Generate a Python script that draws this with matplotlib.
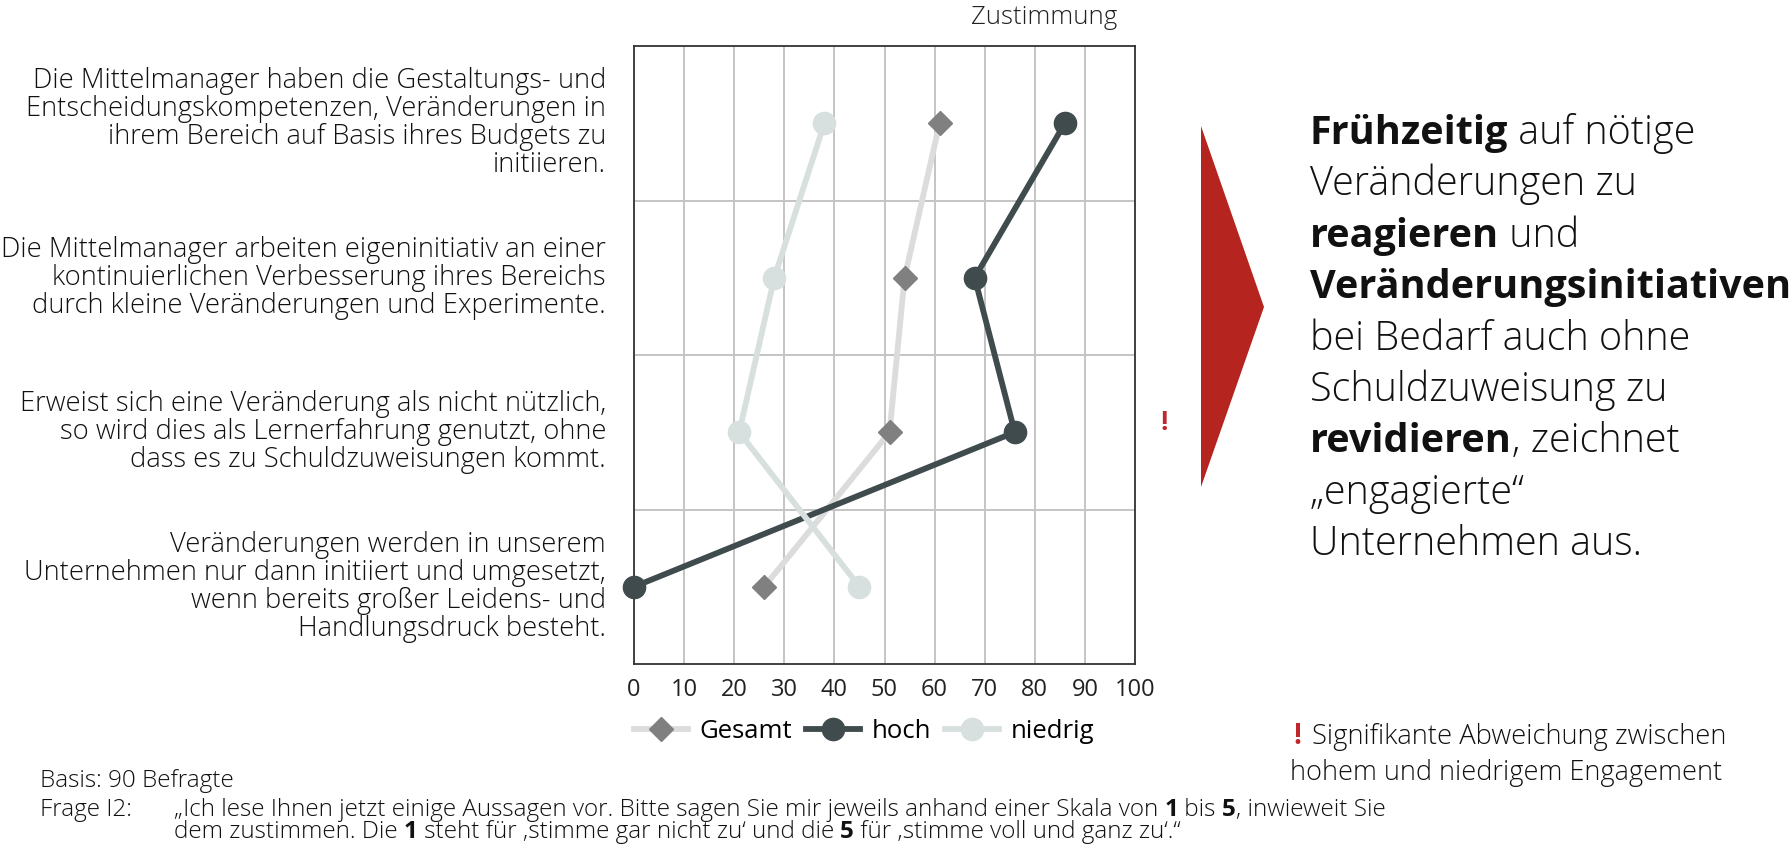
import matplotlib
matplotlib.use('Agg')
import matplotlib.pyplot as plt

plt.rcParams['font.family'] = ['Open Sans', 'DejaVu Sans']

aussagen = [
    'Die Mittelmanager haben die Gestaltungs- und\nEntscheidungskompetenzen, Veränderungen in\nihrem Bereich auf Basis ihres Budgets zu\ninitiieren.',
    'Die Mittelmanager arbeiten eigeninitiativ an einer\nkontinuierlichen Verbesserung ihres Bereichs\ndurch kleine Veränderungen und Experimente.',
    'Erweist sich eine Veränderung als nicht nützlich,\nso wird dies als Lernerfahrung genutzt, ohne\ndass es zu Schuldzuweisungen kommt.',
    'Veränderungen werden in unserem\nUnternehmen nur dann initiiert und umgesetzt,\nwenn bereits großer Leidens- und\nHandlungsdruck besteht.',
]
gesamt = [61, 54, 51, 26]
hoch = [86, 68, 76, 0]
niedrig = [38, 28, 21, 45]
x_ticks = [0, 10, 20, 30, 40, 50, 60, 70, 80, 90, 100]

fazit = [
    [('Frühzeitig', True), (' auf nötige', False)],
    [('Veränderungen zu', False)],
    [('reagieren', True), (' und', False)],
    [('Veränderungsinitiativen', True)],
    [('bei Bedarf auch ohne', False)],
    [('Schuldzuweisung zu', False)],
    [('revidieren', True), (', zeichnet', False)],
    [('„engagierte“', False)],
    [('Unternehmen aus.', False)],
]
frage = [
    [('„Ich lese Ihnen jetzt einige Aussagen vor. Bitte sagen Sie mir jeweils anhand einer Skala von ', False),
     ('1', True), (' bis ', False), ('5', True), (', inwieweit Sie', False)],
    [('dem zustimmen. Die ', False), ('1', True), (' steht für ‚stimme gar nicht zu‘ und die ', False),
     ('5', True), (' für ‚stimme voll und ganz zu‘.“', False)],
]

W, H = 1790, 844
fig = plt.figure(figsize=(W / 100, H / 100), dpi=100)
bg = fig.add_axes([0, 0, 1, 1])
bg.axis('off')
bg.set_xlim(0, W)
bg.set_ylim(H, 0)

ax = fig.add_axes([634 / W, 1 - 664 / H, 501 / W, 618 / H])
y = list(range(len(aussagen)))

ax.plot(gesamt, y, color='#dcdcdc', lw=4.2, marker='D', markersize=12,
        markerfacecolor='#808080', markeredgecolor='#808080', label='Gesamt', zorder=3)
ax.plot(hoch, y, color='#3f4b4d', lw=4.2, marker='o', markersize=16,
        label='hoch', zorder=4, clip_on=False)
ax.plot(niedrig, y, color='#d8e0df', lw=4.2, marker='o', markersize=16,
        label='niedrig', zorder=5)

ax.set_xlim(0, 100)
ax.set_ylim(len(aussagen) - 0.5, -0.5)
ax.set_xticks(x_ticks)
ax.set_xticklabels([str(t) for t in x_ticks], fontsize=17, color='#222222')
ax.set_yticks([i + 0.5 for i in range(len(aussagen) - 1)])
ax.set_yticklabels([])
ax.tick_params(length=0, pad=10)
ax.grid(True, color='#c4c4c4', lw=1.4)
ax.set_axisbelow(True)
for s in ax.spines.values():
    s.set_color('#333333')
    s.set_linewidth(1.3)

for i, txt in enumerate(aussagen):
    ax.annotate(txt, xy=(0, i), xycoords=('axes fraction', 'data'),
                xytext=(-28, 0), textcoords='offset pixels',
                ha='right', va='center', fontsize=19.7, linespacing=1.0,
                color='#111111', fontweight='light')

ax.legend(loc='center left', bbox_to_anchor=(0, -0.11), ncol=3, frameon=False,
          fontsize=18.5, handlelength=2.1, handletextpad=0.45, columnspacing=0.55,
          borderaxespad=0, borderpad=0)

bg.text(1044, 17, 'Zustimmung', ha='center', va='center', fontsize=18.5,
        color='#222222', fontweight='light')

renderer = fig.canvas.get_renderer()


def zeile(x, yb, teile, size, farbe='#111111'):
    # Textstücke nebeneinander, fett/normal gemischt
    for s, fett in teile:
        t = bg.text(x, yb, s, ha='left', va='baseline', fontsize=size, color=farbe,
                    fontweight='bold' if fett else 'light')
        x += t.get_window_extent(renderer).width


for i, teile in enumerate(fazit):
    zeile(1310, 144 + 51.4 * i, teile, 28.5)

# roter Pfeil
bg.fill([1201, 1264, 1201], [126, 307, 487], color='#b5241f', lw=0)
bg.text(1164, 422, '!', color='#c0272d', fontsize=19, ha='center', va='center', fontweight='bold')

bg.text(1297, 744, '!', color='#c0272d', fontsize=20, ha='center', va='baseline', fontweight='bold')
bg.text(1312, 744, 'Signifikante Abweichung zwischen', fontsize=19.7, va='baseline',
        color='#111111', fontweight='light')
bg.text(1290, 780, 'hohem und niedrigem Engagement', fontsize=19.5, va='baseline',
        color='#111111', fontweight='light')

bg.text(40, 787, 'Basis: 90 Befragte', fontsize=17.5, va='baseline', color='#111111', fontweight='light')
bg.text(40, 816, 'Frage I2:', fontsize=17.5, va='baseline', color='#111111', fontweight='light')
zeile(174, 816, frage[0], 17.5)
zeile(174, 838, frage[1], 17.5)

fig.savefig('out.png', dpi=100)
